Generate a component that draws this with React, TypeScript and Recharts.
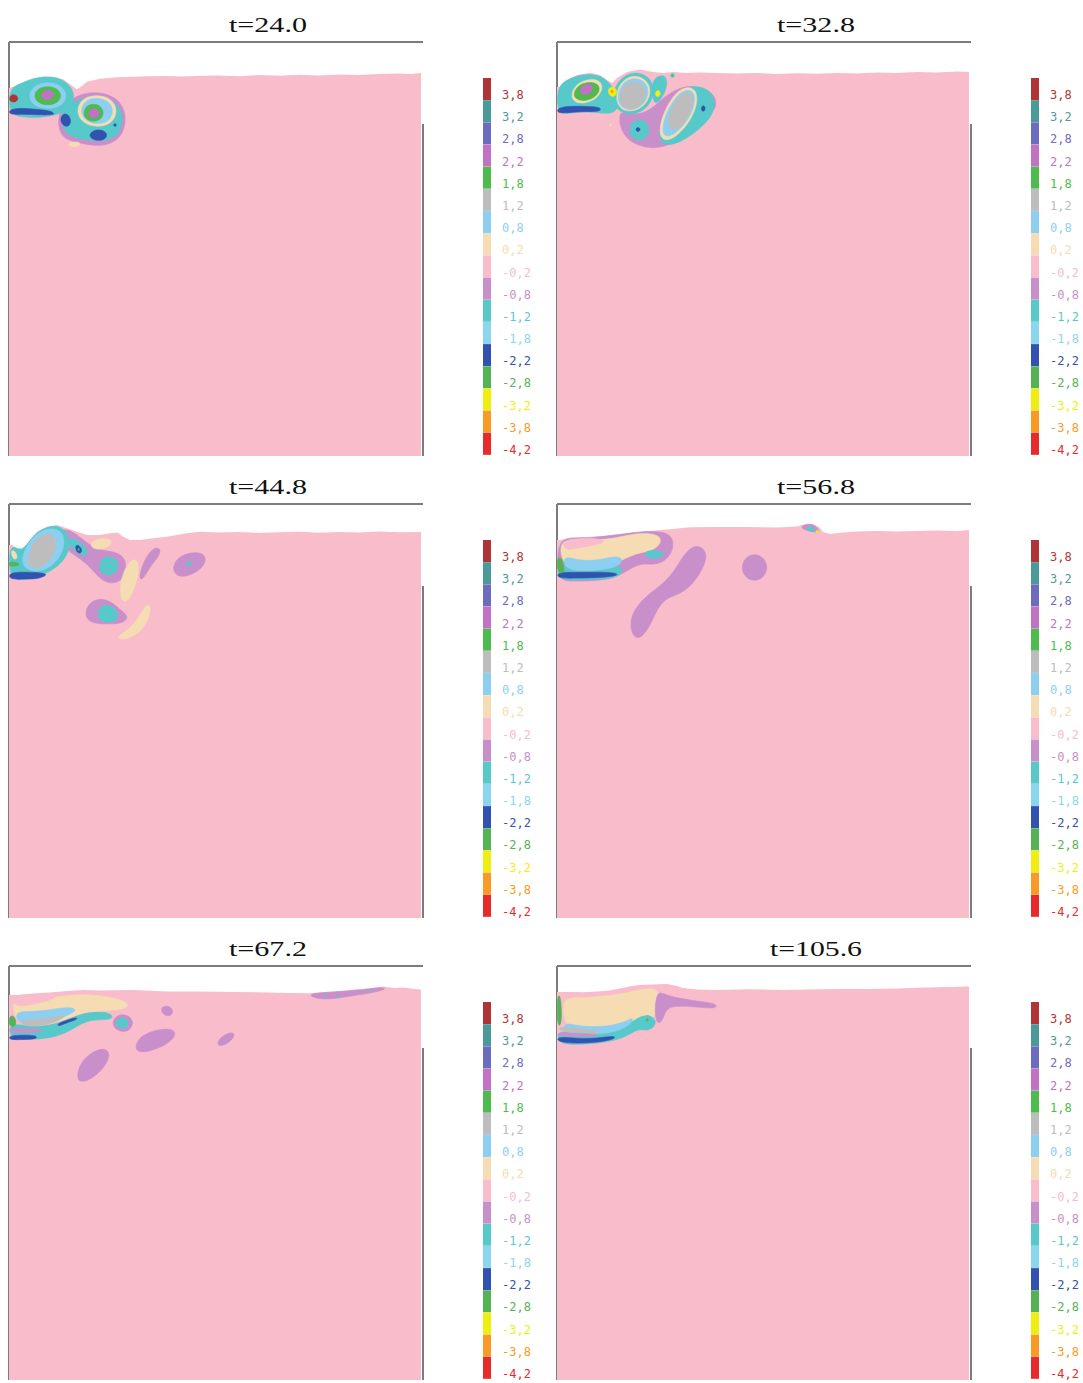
import React from 'react';
import { ComposedChart, Scatter, XAxis, YAxis, ReferenceLine, BarChart, Bar, Cell } from 'recharts';

// contour levels (legend), top to bottom
const LEVELS = [3.8, 3.2, 2.8, 2.2, 1.8, 1.2, 0.8, 0.2, -0.2, -0.8, -1.2, -1.8, -2.2, -2.8, -3.2, -3.8, -4.2];
const LEVEL_LABELS = ['3,8', '3,2', '2,8', '2,2', '1,8', '1,2', '0,8', '0,2', '-0,2', '-0,8', '-1,2', '-1,8', '-2,2', '-2,8', '-3,2', '-3,8', '-4,2'];
const LEVEL_COLORS = ['#b03434', '#4b9a9a', '#6b6cc0', '#c172c4', '#4dbb4d', '#bdbdbd', '#8dcff0', '#f5dcb2', '#f8bccb', '#c98fcb', '#58c9ca', '#8ad6ee', '#3152b0', '#55b255', '#f0ee10', '#f89a24', '#e82a2a'];
const TITLES = ['t=24.0', 't=32.8', 't=44.8', 't=56.8', 't=67.2', 't=105.6'];
const TITLE_WIDTHS = [78, 78, 78, 78, 78, 92];

// tank size (cm): width x depth
const TANK_W = 41.4;
const TANK_H = 41.4;
const WALL_TOP = 8.2; // depth where the right wall line starts

type Blob = { level: number; pts: number[] };

// free surface (x, depth) pairs
const P1_SURFACE = [0, 4.6, 0.4, 4.47, 1.1, 4.3, 1.8, 4.07, 2.4, 3.73, 3.4, 3.47, 4.4, 3.47, 5.4, 3.73, 6.1, 4.23, 6.8, 4.73, 7.3, 4.4, 7.8, 3.97, 9.1, 3.67, 10.8, 3.53, 12.4, 3.47, 14, 3.42, 15.8, 3.4, 17.5, 3.45, 19.1, 3.38, 21, 3.35, 23, 3.42, 25, 3.3, 27, 3.38, 29, 3.28, 31, 3.35, 33, 3.25, 35, 3.3, 37, 3.2, 39, 3.15, 40.2, 3.2, 41.2, 3.1];
const P1_BLOBS: Blob[] = [
  { level: -0.8, pts: [5.0, 7.0, 6.0, 5.8, 7.4, 5.15, 8.8, 5.0, 10.3, 5.35, 11.3, 6.2, 11.7, 7.5, 11.5, 8.8, 10.9, 9.8, 9.6, 10.4, 8.0, 10.3, 6.5, 10.0, 5.4, 9.6, 4.9, 8.5] },
  { level: -1.2, pts: [5.3, 7.0, 6.3, 6.1, 7.6, 5.5, 9.0, 5.45, 10.3, 5.8, 11.1, 6.6, 11.4, 7.7, 11.1, 8.9, 10.5, 9.6, 9.2, 9.95, 7.8, 9.8, 6.4, 9.5, 5.6, 9.0, 5.2, 8.0] },
  { level: -1.2, pts: [0, 4.6, 1.1, 4.2, 2.4, 3.6, 3.8, 3.45, 5.1, 3.6, 6.2, 4.4, 6.6, 5.5, 6.2, 6.6, 5.3, 7.1, 4.2, 7.4, 2.8, 7.6, 1.4, 7.5, 0, 7.3] },
  { level: 0.8, pts: [1.9, 5.4, 2.45, 4.35, 3.9, 3.95, 5.3, 4.35, 5.85, 5.4, 5.3, 6.4, 3.9, 6.75, 2.45, 6.4] },
  { level: 1.8, pts: [2.47, 5.37, 2.85, 4.65, 3.87, 4.37, 4.9, 4.65, 5.27, 5.37, 4.9, 6.1, 3.87, 6.37, 2.85, 6.1] },
  { level: 2.2, pts: [3.2, 5.3, 3.4, 4.9, 3.85, 4.78, 4.3, 4.9, 4.5, 5.3, 4.3, 5.7, 3.85, 5.82, 3.4, 5.7] },
  { level: -2.2, pts: [0, 6.7, 1.5, 6.6, 3.0, 6.75, 4.3, 6.9, 4.7, 7.3, 3.0, 7.3, 1.5, 7.2, 0, 7.3] },
  { level: 3.8, pts: [0.05, 5.35, 0.6, 5.2, 1.0, 5.6, 0.7, 6.05, 0.05, 6.0] },
  { level: 0.2, pts: [6.7, 6.9, 7.3, 5.6, 8.8, 5.25, 10.3, 5.65, 10.9, 6.9, 10.3, 8.2, 8.8, 8.55, 7.3, 8.1] },
  { level: 0.8, pts: [7.1, 6.9, 7.6, 5.8, 8.8, 5.55, 10.0, 5.9, 10.5, 6.9, 10.0, 8.0, 8.8, 8.25, 7.6, 7.9] },
  { level: 1.8, pts: [7.4, 7.1, 7.7, 6.4, 8.45, 6.15, 9.2, 6.4, 9.5, 7.1, 9.2, 7.75, 8.45, 8.0, 7.7, 7.75] },
  { level: 2.2, pts: [7.9, 7.13, 8.1, 6.75, 8.5, 6.63, 8.9, 6.75, 9.1, 7.13, 8.9, 7.5, 8.5, 7.63, 8.1, 7.5] },
  { level: -2.2, pts: [5.1, 7.6, 5.5, 7.1, 6.0, 7.3, 6.25, 8.0, 5.9, 8.55, 5.3, 8.3] },
  { level: -2.2, pts: [7.9, 9.4, 8.4, 8.8, 9.3, 8.75, 9.9, 9.2, 9.6, 9.8, 8.6, 9.9] },
  { level: -2.2, pts: [10.4, 8.3, 10.6, 8.1, 10.8, 8.3, 10.6, 8.5] },
  { level: 0.2, pts: [5.8, 10.2, 6.4, 9.95, 7.2, 10.05, 7.0, 10.45, 6.2, 10.5] },
];

const P2_SURFACE = [0, 4.5, 0.3, 4.47, 1.0, 3.8, 2.0, 3.3, 3.3, 3.07, 4.3, 3.3, 5.0, 3.8, 5.5, 4.1, 6.0, 3.6, 7.0, 3.0, 8.3, 2.75, 9.6, 3.0, 10.6, 3.1, 11.6, 3.0, 13, 3.1, 14.3, 3.05, 16, 3.1, 18, 3.15, 20, 3.1, 22, 3.2, 24, 3.12, 26, 3.18, 28, 3.1, 30, 3.15, 32, 3.05, 34, 3.1, 36, 3.0, 38, 3.05, 40, 2.95, 41.2, 3.0];
const P2_BLOBS: Blob[] = [
  { level: -0.8, pts: [6.3, 6.8, 6.2, 8.2, 6.8, 9.5, 7.9, 10.3, 9.6, 10.7, 11.3, 10.3, 12.6, 9.5, 13.6, 8.4, 14.3, 7.5, 15.8, 7.0, 16.0, 5.8, 15.3, 4.9, 14.2, 4.5, 13.0, 4.4, 11.8, 4.8, 10.6, 5.6, 9.6, 6.6, 8.5, 7.2, 7.3, 7.2] },
  { level: -1.2, pts: [9.4, 4.0, 10.2, 3.3, 11.0, 3.4, 11.0, 4.6, 10.4, 5.8, 9.6, 6.4] },
  { level: -1.2, pts: [10.1, 9.8, 10.4, 8.2, 11.1, 6.5, 12.1, 5.1, 13.3, 4.4, 14.7, 4.5, 15.7, 5.3, 15.8, 6.7, 15.1, 7.9, 13.9, 9.0, 12.4, 10.0, 11.0, 10.4] },
  { level: 0.2, pts: [10.2, 9.4, 10.4, 7.8, 11.1, 6.2, 12.1, 4.8, 13.3, 4.4, 14.1, 5.1, 13.9, 6.7, 13.1, 8.2, 12.0, 9.4, 10.9, 9.95] },
  { level: 0.8, pts: [10.5, 9.1, 10.7, 7.7, 11.4, 6.2, 12.3, 5.0, 13.3, 4.7, 13.85, 5.3, 13.65, 6.7, 12.9, 8.1, 11.9, 9.1, 11.0, 9.55] },
  { level: 1.2, pts: [11.0, 8.5, 11.2, 7.2, 11.8, 5.9, 12.6, 5.05, 13.45, 5.0, 13.7, 5.8, 13.4, 7.0, 12.7, 8.2, 11.8, 8.9] },
  { level: -2.2, pts: [14.35, 6.7, 14.6, 6.25, 14.9, 6.6, 14.65, 7.05] },
  { level: -1.2, pts: [7.2, 8.8, 7.5, 8.0, 8.23, 7.7, 9.0, 8.0, 9.25, 8.8, 9.0, 9.6, 8.23, 9.9, 7.5, 9.6] },
  { level: -2.2, pts: [7.8, 8.75, 8.1, 8.45, 8.4, 8.75, 8.1, 9.05] },
  { level: -1.2, pts: [0, 4.5, 1.0, 3.75, 2.3, 3.3, 3.6, 3.2, 4.6, 3.5, 5.3, 4.2, 6.0, 5.0, 6.3, 6.2, 5.7, 7.2, 4.3, 7.1, 3.0, 6.95, 1.6, 7.05, 0, 7.35] },
  { level: -1.2, pts: [5.5, 5.5, 5.9, 4.2, 6.8, 3.3, 7.9, 3.0, 9.0, 3.35, 9.7, 4.3, 9.6, 5.6, 8.9, 6.7, 7.8, 7.25, 6.6, 7.15, 5.8, 6.5] },
  { level: 0.2, pts: [5.9, 5.5, 6.2, 4.3, 7.0, 3.55, 7.9, 3.35, 8.8, 3.7, 9.35, 4.5, 9.25, 5.6, 8.6, 6.5, 7.6, 6.95, 6.6, 6.85, 6.1, 6.3] },
  { level: 0.8, pts: [6.05, 5.5, 6.35, 4.4, 7.1, 3.75, 7.95, 3.6, 8.7, 3.95, 9.15, 4.6, 9.05, 5.6, 8.45, 6.45, 7.5, 6.8, 6.65, 6.65, 6.2, 6.2] },
  { level: 1.2, pts: [6.2, 5.6, 6.5, 4.55, 7.2, 4.0, 8.1, 3.95, 8.85, 4.6, 8.85, 5.6, 8.3, 6.5, 7.3, 6.85, 6.5, 6.45] },
  { level: 0.2, pts: [1.35, 5.4, 1.8, 4.3, 3.0, 3.7, 4.2, 3.75, 4.65, 4.5, 4.1, 5.6, 2.9, 6.15, 1.8, 6.1] },
  { level: 1.8, pts: [1.6, 5.3, 2.0, 4.4, 3.0, 4.0, 4.0, 4.1, 4.35, 4.7, 3.9, 5.5, 2.9, 5.9, 2.0, 5.8] },
  { level: 2.2, pts: [2.2, 5.0, 2.5, 4.35, 3.2, 4.15, 3.7, 4.5, 3.4, 5.1, 2.7, 5.35] },
  { level: -2.2, pts: [0, 6.55, 1.6, 6.4, 3.0, 6.45, 4.4, 6.5, 4.4, 6.95, 3.0, 6.95, 1.6, 7.0, 0, 7.2] },
  { level: -3.2, pts: [5.0, 4.9, 5.4, 4.4, 6.0, 4.7, 5.95, 5.35, 5.4, 5.55] },
  { level: -3.8, pts: [5.3, 4.95, 5.5, 4.75, 5.7, 4.95, 5.5, 5.15] },
  { level: -3.2, pts: [9.8, 5.1, 10.05, 4.75, 10.4, 5.05, 10.2, 5.5, 9.9, 5.45] },
  { level: -1.2, pts: [11.25, 3.35, 11.55, 3.05, 11.85, 3.35, 11.55, 3.65] },
  { level: 1.8, pts: [11.45, 3.35, 11.55, 3.25, 11.65, 3.35, 11.55, 3.45] },
  { level: 0.2, pts: [5.2, 8.3, 5.35, 8.15, 5.5, 8.3, 5.35, 8.45] },
];

const P3_SURFACE = [0, 4.1, 0.3, 4.1, 0.8, 4.43, 1.4, 4.6, 2.1, 3.6, 2.8, 2.77, 3.8, 2.27, 4.8, 2.1, 5.8, 2.43, 6.8, 2.77, 7.8, 3.1, 9.1, 3.1, 10.1, 2.93, 10.9, 2.87, 11.4, 3.27, 12.1, 3.6, 13.1, 3.6, 14.4, 3.43, 15.8, 3.27, 17.8, 2.93, 19.1, 2.77, 21, 2.85, 23, 2.8, 25, 2.9, 27, 2.82, 29, 2.78, 31, 2.88, 33, 2.8, 35, 2.85, 37, 2.75, 39, 2.82, 41.2, 2.8];
const P3_BLOBS: Blob[] = [
  { level: -0.8, pts: [5.0, 2.6, 5.9, 2.5, 7.0, 3.2, 8.3, 4.3, 9.6, 4.7, 10.8, 4.8, 11.7, 5.5, 11.7, 6.8, 11.2, 7.7, 10.2, 8.0, 9.2, 7.6, 8.3, 6.5, 7.2, 5.5, 6.0, 4.8, 5.2, 3.8] },
  { level: -1.2, pts: [0, 4.1, 0.8, 4.45, 1.4, 4.6, 2.1, 3.6, 2.8, 2.8, 3.8, 2.3, 4.8, 2.15, 5.6, 2.6, 6.1, 3.5, 6.0, 4.8, 5.2, 6.0, 4.0, 6.8, 2.8, 7.3, 1.5, 7.6, 0, 7.6] },
  { level: 0.8, pts: [1.2, 5.8, 1.6, 4.5, 2.3, 3.4, 3.3, 2.6, 4.5, 2.4, 5.3, 2.8, 5.6, 3.8, 5.2, 5.2, 4.2, 6.3, 3.0, 6.8, 1.8, 6.6] },
  { level: 1.2, pts: [1.8, 5.9, 2.1, 4.6, 2.7, 3.5, 3.6, 2.9, 4.4, 3.0, 4.75, 3.8, 4.5, 5.0, 3.8, 6.0, 2.8, 6.45, 2.1, 6.3] },
  { level: -2.2, pts: [0, 6.85, 1.5, 6.8, 3.0, 6.85, 4.0, 7.0, 3.0, 7.5, 1.5, 7.5, 0, 7.55] },
  { level: -2.8, pts: [0, 5.75, 0.8, 5.8, 1.15, 6.1, 0.5, 6.25, 0, 6.2] },
  { level: 0.2, pts: [0.15, 4.6, 0.6, 4.65, 0.95, 5.4, 0.4, 5.65] },
  { level: -1.2, pts: [6.0, 3.4, 6.7, 3.5, 7.6, 4.2, 7.95, 5.0, 7.4, 5.25, 6.6, 4.75, 6.0, 4.0] },
  { level: -2.2, pts: [6.6, 4.2, 6.95, 4.05, 7.35, 4.6, 7.15, 5.0, 6.75, 4.8] },
  { level: -2.8, pts: [6.85, 4.45, 7.0, 4.4, 7.1, 4.6, 6.95, 4.7] },
  { level: -1.2, pts: [8.95, 6.2, 9.3, 5.4, 10.0, 5.2, 10.8, 5.5, 10.95, 6.3, 10.6, 7.0, 9.8, 7.15, 9.2, 6.9] },
  { level: 0.2, pts: [11.1, 9.0, 11.2, 7.5, 11.7, 6.3, 12.3, 5.5, 12.9, 5.6, 13.0, 6.8, 12.6, 8.3, 12.0, 9.6, 11.4, 9.9] },
  { level: 0.2, pts: [8.1, 3.9, 8.8, 3.5, 9.8, 3.4, 10.4, 3.7, 10.0, 4.3, 9.0, 4.6, 8.3, 4.4] },
  { level: -0.8, pts: [13.0, 7.4, 13.3, 6.2, 13.9, 5.0, 14.6, 4.3, 15.2, 4.5, 15.0, 5.2, 14.3, 6.0, 13.7, 7.0, 13.3, 7.6] },
  { level: -0.8, pts: [16.3, 6.6, 16.7, 5.5, 17.8, 4.9, 19.2, 4.8, 19.8, 5.4, 19.3, 6.5, 18.0, 7.2, 16.9, 7.3] },
  { level: -1.2, pts: [17.55, 5.95, 18.0, 5.7, 18.45, 5.95, 18.0, 6.25] },
  { level: -0.8, pts: [7.6, 11.0, 7.9, 10.0, 8.9, 9.4, 10.2, 9.7, 11.0, 10.5, 12.0, 11.2, 11.5, 11.9, 10.3, 12.0, 8.9, 12.0, 7.9, 11.7] },
  { level: -1.2, pts: [8.8, 10.8, 9.3, 10.1, 10.2, 10.1, 11.0, 10.9, 10.8, 11.7, 9.8, 11.9, 9.0, 11.6] },
  { level: 0.2, pts: [10.9, 13.2, 11.9, 12.6, 12.8, 11.6, 13.5, 10.4, 14.0, 9.9, 14.2, 10.6, 13.8, 11.9, 13.0, 12.9, 11.9, 13.5, 11.0, 13.5] },
];

const P4_SURFACE = [0, 3.6, 0.3, 3.6, 1.3, 3.43, 3.3, 3.43, 5.3, 3.27, 7.3, 2.93, 8.6, 2.77, 10.3, 2.6, 11.3, 2.53, 13.3, 2.33, 16, 2.3, 19, 2.3, 22, 2.35, 24, 2.25, 24.5, 2.1, 25.5, 2.0, 26.2, 2.3, 26.6, 2.8, 27.3, 3.0, 28.5, 2.85, 30, 2.75, 32, 2.7, 34, 2.75, 36, 2.7, 38, 2.65, 40, 2.7, 41.2, 2.6];
const P4_BLOBS: Blob[] = [
  { level: -0.8, pts: [0, 3.6, 1.5, 3.35, 3.5, 3.35, 5.5, 3.15, 7.5, 2.85, 9.5, 2.7, 11.0, 2.85, 11.7, 3.6, 11.5, 4.9, 10.7, 5.8, 9.5, 6.1, 8.3, 5.9, 7.0, 6.7, 5.5, 7.5, 3.5, 7.7, 1.5, 7.7, 0, 7.7] },
  { level: -1.2, pts: [0, 6.1, 3.0, 6.25, 5.5, 6.2, 6.7, 6.3, 6.3, 7.3, 4.5, 7.55, 2.0, 7.6, 0, 7.6] },
  { level: 0.2, pts: [0.3, 3.8, 1.5, 3.5, 3.5, 3.6, 5.5, 3.5, 7.5, 3.0, 9.2, 2.9, 10.35, 3.2, 10.4, 4.0, 9.5, 4.7, 8.0, 4.9, 6.5, 5.6, 5.0, 6.3, 3.0, 6.6, 1.3, 6.5, 0.4, 5.5] },
  { level: -0.2, pts: [0.6, 3.8, 1.5, 3.5, 3.0, 3.4, 4.2, 3.5, 5.0, 3.7, 4.0, 4.1, 2.5, 4.3, 1.2, 4.6, 0.7, 4.4] },
  { level: 0.8, pts: [0.8, 5.2, 2.0, 5.6, 3.5, 5.7, 5.0, 5.4, 6.1, 5.2, 6.65, 5.6, 6.0, 6.3, 4.5, 6.6, 2.8, 6.7, 1.3, 6.6, 0.6, 6.0] },
  { level: -2.2, pts: [0, 6.8, 2.0, 6.85, 4.0, 6.8, 5.8, 6.85, 6.3, 7.15, 4.0, 7.4, 2.0, 7.4, 0, 7.45] },
  { level: -2.8, pts: [0, 5.3, 0.5, 5.4, 0.65, 6.3, 0.8, 6.9, 0, 6.95] },
  { level: -1.2, pts: [8.6, 4.9, 9.3, 4.6, 10.3, 4.7, 10.85, 5.0, 10.2, 5.45, 9.2, 5.45] },
  { level: -0.8, pts: [7.3, 12.3, 7.5, 11.0, 8.3, 9.8, 9.6, 8.7, 10.8, 7.8, 11.8, 6.6, 12.6, 5.2, 13.5, 4.2, 14.5, 4.2, 15.1, 5.2, 14.4, 6.8, 13.5, 8.1, 12.3, 9.0, 10.9, 9.4, 10.0, 10.5, 9.4, 12.0, 8.5, 13.4, 7.7, 13.4] },
  { level: -0.8, pts: [18.4, 6.35, 18.8, 5.35, 19.75, 4.93, 20.7, 5.35, 21.1, 6.35, 20.7, 7.35, 19.75, 7.77, 18.8, 7.35] },
  { level: -0.8, pts: [24.3, 2.3, 24.9, 2.0, 25.6, 2.0, 26.1, 2.4, 26.2, 2.85, 25.5, 2.8, 24.8, 2.6] },
  { level: -1.2, pts: [24.8, 2.4, 25.4, 2.2, 25.9, 2.5, 25.7, 2.75, 25.1, 2.7] },
  { level: -3.2, pts: [25.8, 2.7, 26.0, 2.6, 26.2, 2.8, 26.0, 2.9] },
];

const P5_SURFACE = [0, 2.9, 1.1, 2.9, 2.4, 2.75, 4.1, 2.65, 5.8, 2.5, 7.4, 2.4, 9.1, 2.45, 12.4, 2.4, 15.8, 2.55, 19.1, 2.55, 22.4, 2.6, 25.8, 2.65, 28, 2.7, 30, 2.72, 31.5, 2.6, 33, 2.5, 34.5, 2.35, 36, 2.25, 37.4, 2.05, 38.5, 2.2, 39.5, 2.15, 40.5, 2.3, 41.2, 2.35];
const P5_BLOBS: Blob[] = [
  { level: -1.2, pts: [0, 5.6, 2.0, 6.1, 4.0, 6.0, 6.0, 5.3, 7.5, 4.7, 9.0, 4.55, 10.3, 4.75, 10.4, 5.35, 9.0, 5.35, 7.5, 5.55, 6.2, 6.45, 4.5, 7.15, 2.5, 7.35, 0, 7.35] },
  { level: 0.2, pts: [0.3, 3.0, 2.0, 3.3, 4.0, 3.2, 6.0, 2.9, 8.0, 2.85, 10.0, 3.05, 11.6, 3.5, 12.1, 4.0, 11.0, 4.45, 9.0, 4.5, 7.5, 4.6, 6.0, 5.2, 4.0, 5.9, 2.0, 6.0, 0.5, 5.4] },
  { level: -0.2, pts: [0.3, 2.9, 2.0, 2.85, 3.5, 2.8, 5.0, 2.75, 4.5, 3.3, 3.0, 3.7, 1.5, 4.0, 0.5, 4.0] },
  { level: 0.8, pts: [0.6, 4.5, 2.5, 4.6, 4.5, 4.3, 6.2, 4.1, 6.85, 4.4, 5.8, 5.0, 4.0, 5.6, 2.0, 5.9, 0.8, 5.6] },
  { level: 1.2, pts: [1.1, 5.4, 3.0, 5.4, 4.8, 5.0, 5.8, 4.9, 5.0, 5.5, 3.2, 6.05, 1.3, 6.0] },
  { level: -2.8, pts: [0, 4.9, 0.6, 5.0, 0.8, 6.0, 0, 6.2] },
  { level: -0.8, pts: [0, 6.2, 1.5, 6.3, 3.3, 6.3, 3.4, 6.65, 1.5, 6.65, 0, 6.65] },
  { level: -2.2, pts: [0, 6.95, 1.5, 6.9, 2.8, 6.95, 2.8, 7.3, 1.5, 7.35, 0, 7.4] },
  { level: -2.2, pts: [4.8, 5.8, 5.8, 5.4, 6.8, 5.1, 6.85, 5.35, 5.8, 5.65, 4.9, 6.05] },
  { level: -0.8, pts: [10.3, 5.7, 10.7, 5.0, 11.4, 4.8, 12.2, 5.1, 12.45, 5.8, 12.0, 6.5, 11.3, 6.6, 10.6, 6.3] },
  { level: -1.2, pts: [10.6, 5.7, 10.9, 5.25, 11.4, 5.15, 11.9, 5.4, 12.0, 5.8, 11.7, 6.2, 11.2, 6.25, 10.8, 6.1] },
  { level: -0.8, pts: [15.1, 4.3, 15.6, 3.95, 16.2, 4.1, 16.45, 4.6, 16.1, 5.05, 15.5, 4.95] },
  { level: -0.8, pts: [12.6, 8.1, 13.0, 7.2, 14.0, 6.6, 15.5, 6.25, 16.7, 6.4, 16.5, 7.3, 15.3, 8.1, 13.8, 8.6, 12.9, 8.6] },
  { level: -0.8, pts: [20.8, 7.7, 21.2, 7.1, 22.0, 6.65, 22.6, 6.7, 22.4, 7.3, 21.6, 7.9, 21.0, 8.0] },
  { level: -0.8, pts: [6.8, 11.0, 7.1, 9.8, 8.0, 8.8, 9.2, 8.2, 10.1, 8.5, 9.9, 9.6, 9.0, 10.7, 7.9, 11.5, 7.0, 11.6] },
  { level: -0.8, pts: [30.1, 2.8, 31.5, 2.65, 33.5, 2.55, 35.5, 2.35, 37.3, 2.1, 37.8, 2.3, 36.5, 2.65, 34.5, 2.95, 32.5, 3.3, 31.0, 3.3, 30.2, 3.05] },
  { level: -1.2, pts: [31.45, 3.0, 31.6, 2.85, 31.75, 3.0, 31.6, 3.15] },
  { level: -1.2, pts: [32.85, 3.05, 33.0, 2.9, 33.15, 3.05, 33.0, 3.2] },
  { level: -1.2, pts: [35.75, 2.55, 35.9, 2.4, 36.05, 2.55, 35.9, 2.7] },
];

const P6_SURFACE = [0, 2.6, 1.3, 2.6, 2.6, 2.62, 4.0, 2.55, 5.3, 2.45, 6.5, 2.2, 7.5, 2.0, 8.3, 1.9, 9.5, 1.85, 11.0, 1.8, 12.0, 2.0, 12.6, 2.2, 14, 2.35, 16, 2.4, 19.3, 2.33, 22.6, 2.4, 25, 2.35, 28, 2.3, 31, 2.3, 34, 2.25, 37, 2.15, 39, 2.1, 41.2, 2.05];
const P6_BLOBS: Blob[] = [
  { level: 0.2, pts: [0.6, 3.1, 2.5, 3.2, 5.0, 3.0, 7.0, 2.7, 8.5, 2.35, 9.6, 2.2, 10.2, 2.6, 10.05, 3.5, 9.95, 4.6, 9.6, 5.3, 8.6, 5.5, 7.0, 5.8, 5.0, 6.3, 3.0, 6.5, 1.2, 6.4, 0.6, 5.0] },
  { level: -0.8, pts: [9.97, 2.9, 10.3, 2.6, 10.97, 2.95, 12.63, 3.3, 14.3, 3.55, 15.8, 3.75, 16.0, 4.05, 15.63, 4.25, 13.97, 4.1, 12.63, 4.0, 11.3, 4.05, 10.8, 4.6, 10.5, 5.6, 9.97, 5.8, 9.75, 4.4] },
  { level: -1.2, pts: [0, 6.3, 2.5, 6.8, 5.0, 6.7, 7.0, 6.0, 8.0, 5.2, 9.0, 4.85, 9.95, 5.3, 9.75, 6.15, 8.9, 6.5, 8.1, 6.25, 7.0, 7.05, 5.0, 7.65, 2.5, 7.85, 0, 7.85] },
  { level: 0.8, pts: [0.6, 5.6, 2.0, 6.0, 4.0, 6.1, 5.8, 5.9, 7.0, 5.5, 7.65, 5.1, 7.45, 5.75, 6.3, 6.45, 4.5, 6.8, 2.5, 6.9, 0.8, 6.8] },
  { level: 1.2, pts: [0.2, 6.0, 2.0, 6.3, 4.3, 6.5, 4.35, 6.8, 2.0, 6.65, 0.2, 6.55] },
  { level: -0.8, pts: [0, 6.6, 2.0, 6.75, 4.0, 6.8, 4.05, 7.05, 2.0, 7.05, 0, 7.0] },
  { level: -2.2, pts: [0, 7.05, 2.0, 7.25, 4.0, 7.25, 5.8, 6.95, 5.85, 7.3, 4.0, 7.65, 2.0, 7.75, 0, 7.6] },
  { level: -2.8, pts: [0, 2.8, 0.4, 2.9, 0.5, 6.0, 0, 6.1] },
  { level: -1.2, pts: [8.5, 5.5, 8.8, 5.0, 9.1, 4.9, 9.5, 5.1, 9.65, 5.5, 9.4, 6.0, 9.0, 6.1, 8.7, 5.9] },
  { level: -2.8, pts: [8.85, 5.4, 9.0, 5.2, 9.2, 5.4, 9.0, 5.6] },
];

const SURFACES = [P1_SURFACE, P2_SURFACE, P3_SURFACE, P4_SURFACE, P5_SURFACE, P6_SURFACE];
const BLOBS = [P1_BLOBS, P2_BLOBS, P3_BLOBS, P4_BLOBS, P5_BLOBS, P6_BLOBS];

const LEGEND_DATA = LEVEL_LABELS.map((label, i) => ({ label, v: 1, color: LEVEL_COLORS[i] }));

const pairs = (a: number[]) => {
  const out: { x: number; y: number }[] = [];
  for (let i = 0; i < a.length; i += 2) out.push({ x: a[i], y: a[i + 1] });
  return out;
};
const colorOf = (lvl: number) => LEVEL_COLORS[LEVELS.indexOf(lvl)];
const NoDot = () => null;

const BOX = 414;
const WALL = '#7c7c7c';

function Panel({ left, top, surface, blobs }: { left: number; top: number; surface: number[]; blobs: Blob[] }) {
  const pts = pairs(surface);
  const fluid = [{ x: 0, y: TANK_H }, ...pts, { x: pts[pts.length - 1].x, y: TANK_H }];
  return (
    <div style={{ position: 'absolute', left: left - 1, top: top - 1 }}>
      <ComposedChart width={BOX + 2} height={BOX + 2} margin={{ top: 1, right: 1, bottom: 1, left: 1 }}>
        <XAxis type="number" dataKey="x" domain={[0, TANK_W]} hide allowDataOverflow />
        <YAxis type="number" dataKey="y" domain={[0, TANK_H]} reversed hide allowDataOverflow />
        <Scatter
          data={fluid}
          shape={NoDot}
          line={{ fill: colorOf(-0.2), stroke: 'none' }}
          lineJointType="linearClosed"
          isAnimationActive={false}
        />
        {blobs.map((b, i) => (
          <Scatter
            key={i}
            data={pairs(b.pts)}
            shape={NoDot}
            line={{ fill: colorOf(b.level), stroke: colorOf(b.level), strokeWidth: 0.6 }}
            lineJointType="basisClosed"
            isAnimationActive={false}
          />
        ))}
        <ReferenceLine segment={[{ x: 0, y: 0 }, { x: TANK_W, y: 0 }]} stroke={WALL} strokeWidth={2} ifOverflow="visible" />
        <ReferenceLine segment={[{ x: 0, y: 0 }, { x: 0, y: TANK_H }]} stroke={WALL} strokeWidth={2} ifOverflow="visible" />
        <ReferenceLine segment={[{ x: TANK_W, y: WALL_TOP }, { x: TANK_W, y: TANK_H }]} stroke={WALL} strokeWidth={2} ifOverflow="visible" />
      </ComposedChart>
    </div>
  );
}

const LegendTick = (props: any) => {
  const { x, y, payload, index } = props;
  return (
    <text x={x + 11} y={y + 10} textAnchor="start" fill={LEVEL_COLORS[index]} fontFamily="DejaVu Sans Mono" fontSize={12}>
      {payload.value}
    </text>
  );
};

function Legend({ left, top }: { left: number; top: number }) {
  return (
    <div style={{ position: 'absolute', left, top }}>
      <BarChart width={64} height={392} data={LEGEND_DATA} layout="vertical" margin={{ top: 0, right: 4, bottom: 15, left: 0 }} barCategoryGap={0}>
        <XAxis type="number" domain={[0, 1]} hide />
        <YAxis
          type="category"
          dataKey="label"
          orientation="right"
          width={52}
          axisLine={false}
          tickLine={false}
          tickSize={0}
          tickMargin={0}
          interval={0}
          tick={<LegendTick />}
        />
        <Bar dataKey="v" isAnimationActive={false}>
          {LEGEND_DATA.map((d, i) => (
            <Cell key={i} fill={d.color} />
          ))}
        </Bar>
      </BarChart>
    </div>
  );
}

function Title({ cx, baseline, text, w }: { cx: number; baseline: number; text: string; w: number }) {
  return (
    <svg style={{ position: 'absolute', left: cx - 70, top: baseline - 24 }} width={140} height={32}>
      <text x={70} y={24} textAnchor="middle" textLength={w} lengthAdjust="spacingAndGlyphs" fontFamily="Liberation Serif, Times New Roman, serif" fontSize={22} fill="#111">
        {text}
      </text>
    </svg>
  );
}

export default function App() {
  return (
    <div style={{ position: 'absolute', left: 0, top: 0, width: 1083, height: 1383, background: '#fff' }}>
      {TITLES.map((t, i) => {
        const col = i % 2;
        const row = Math.floor(i / 2);
        const left = 9 + 548 * col;
        const top = 42 + 462 * row;
        return (
          <React.Fragment key={i}>
            <Title cx={left + 259} baseline={top - 10} text={t} w={TITLE_WIDTHS[i]} />
            <Panel left={left} top={top} surface={SURFACES[i]} blobs={BLOBS[i]} />
            <Legend left={left + 474} top={top + 36} />
          </React.Fragment>
        );
      })}
    </div>
  );
}
